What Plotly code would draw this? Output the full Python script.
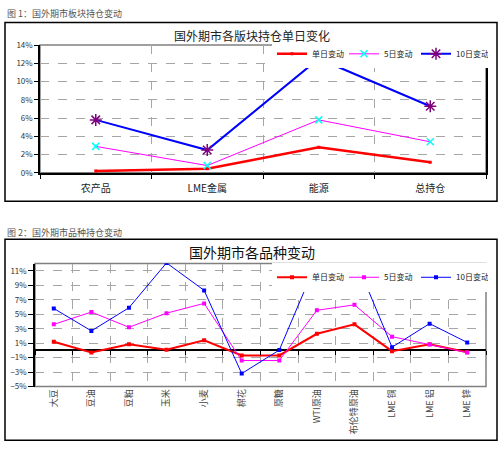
import plotly.graph_objects as go

W, H = 504, 455

# ---------------- data ----------------
sectors = ["农产品", "LME金属", "能源", "总持仓"]
sec_day1 = [0.2, 0.45, 2.8, 1.15]
sec_day5 = [2.9, 0.8, 5.8, 3.4]
sec_day10 = [5.8, 2.5, 12.5, 7.3]

varieties = ["大豆", "豆油", "豆粕", "玉米", "小麦", "棉花", "原糖",
             "WTI原油", "布伦特原油", "LME 铜", "LME 铝", "LME 锌"]
var_day1 = [1.2, -0.3, 0.85, 0.1, 1.4, -0.7, -0.7, 2.3, 3.6, -0.1, 0.85, -0.25]
var_day5 = [3.6, 5.3, 3.2, 5.15, 6.5, -1.4, -1.4, 5.55, 6.3, 1.9, 0.8, -0.3]
var_day10 = [5.8, 2.7, 5.9, 12.1, 8.3, -3.2, 0.05, 12.3, 12.9, 0.45, 3.7, 1.1]

series_names = ["单日变动", "5日变动", "10日变动"]
caption1 = "图 1：国外期市板块持仓变动"
caption2 = "图 2：国外期市品种持仓变动"
title1 = "国外期市各版块持仓单日变化"
title2 = "国外期市各品种变动"

y1_range = [0, 14]
y2_range = [-5, 12]

# ---------------- helpers ----------------
def fx(px):
    return px / W

def fy(py):
    return 1 - py / H

CJK = "Noto Sans CJK SC"
GRID = "#A6A6A6"

fig = go.Figure()

# chart 1 traces
fig.add_trace(go.Scatter(x=sectors, y=sec_day1, name=series_names[0], mode="lines+markers",
                         line=dict(color="#FF0000", width=2.5),
                         marker=dict(symbol="square", size=3, color="#FF0000"),
                         xaxis="x", yaxis="y", legend="legend"))
fig.add_trace(go.Scatter(x=sectors, y=sec_day5, name=series_names[1], mode="lines+markers",
                         line=dict(color="#FF00FF", width=1),
                         marker=dict(symbol="x-thin", size=7, color="#00FFFF",
                                     line=dict(color="#00FFFF", width=1.5)),
                         xaxis="x", yaxis="y", legend="legend"))
fig.add_trace(go.Scatter(x=sectors, y=sec_day10, name=series_names[2], mode="lines+markers",
                         line=dict(color="#0000FF", width=2),
                         marker=dict(symbol="asterisk", size=10, color="#800080",
                                     line=dict(color="#800080", width=1.5)),
                         xaxis="x", yaxis="y", legend="legend"))

# chart 2 traces
for vals, nm, col, w in [(var_day1, series_names[0], "#FF0000", 2),
                         (var_day5, series_names[1], "#FF00FF", 1),
                         (var_day10, series_names[2], "#0000FF", 1)]:
    fig.add_trace(go.Scatter(x=varieties, y=vals, name=nm, mode="lines+markers",
                             line=dict(color=col, width=w),
                             marker=dict(symbol="square", size=4, color=col),
                             xaxis="x2", yaxis="y2", legend="legend2"))

# invisible trace for the zero-level tick axis
fig.add_trace(go.Scatter(x=varieties, y=[0] * len(varieties), mode="none",
                         showlegend=False, hoverinfo="skip", xaxis="x3", yaxis="y2"))

d1x = [fx(40), fx(486)]
d1y = [fy(171), fy(40)]
d2x = [fx(35), fx(486)]
d2y = [fy(390), fy(264)]
zero_pos = d2y[0] + (d2y[1] - d2y[0]) * (0 - y2_range[0]) / (y2_range[1] - y2_range[0])

tickfont_small = dict(family=CJK, size=8, color="#333333")
legend_font = dict(family=CJK, size=8, color="#222222")

fig.update_layout(
    width=W, height=H,
    margin=dict(l=0, r=0, t=0, b=0),
    paper_bgcolor="white", plot_bgcolor="white",
    font=dict(family=CJK),
    xaxis=dict(domain=d1x, anchor="y", type="category", tickson="boundaries",
               showgrid=True, gridcolor=GRID, griddash="dash", gridwidth=1,
               showline=True, linecolor="black", linewidth=1.5,
               ticks="outside", ticklen=4, tickcolor="black",
               tickfont=dict(family=CJK, size=10, color="#222222"),
               ticklabelstandoff=5, range=[-0.5, len(sectors) - 0.5]),
    yaxis=dict(domain=d1y, anchor="x", range=y1_range, dtick=2, ticksuffix="%",
               showgrid=True, gridcolor=GRID, griddash="dash", gridwidth=1,
               showline=True, linecolor="black", linewidth=1.5, mirror=True,
               ticks="outside", ticklen=4, tickcolor="black", zeroline=False,
               tickfont=tickfont_small),
    xaxis2=dict(domain=d2x, anchor="y2", type="category", tickson="boundaries",
                showgrid=True, gridcolor=GRID, griddash="dash", gridwidth=1,
                showline=False, ticks="", tickangle=-90,
                tickfont=dict(family=CJK, size=9, color="#444444"),
                range=[-0.5, len(varieties) - 0.5]),
    xaxis3=dict(overlaying="x2", anchor="free", position=zero_pos, type="category",
                tickson="boundaries", showgrid=False, showline=False,
                ticks="outside", ticklen=4, tickcolor="black", showticklabels=False,
                range=[-0.5, len(varieties) - 0.5]),
    yaxis2=dict(domain=d2y, anchor="x2", range=y2_range, tick0=-5, dtick=2, ticksuffix="%",
                showgrid=True, gridcolor=GRID, griddash="dash", gridwidth=1,
                showline=True, linecolor="black", linewidth=1.5,
                ticks="outside", ticklen=5, tickcolor="black",
                zeroline=True, zerolinecolor="black", zerolinewidth=1.5,
                tickfont=tickfont_small),
    legend=dict(orientation="h", x=fx(488), xanchor="right", y=fy(49), yanchor="middle",
                bgcolor="white", font=legend_font, itemwidth=30, tracegroupgap=0,
                entrywidth=27, entrywidthmode="pixels"),
    legend2=dict(orientation="h", x=fx(488), xanchor="right", y=fy(278), yanchor="middle",
                 bgcolor="white", font=legend_font, itemwidth=30, tracegroupgap=0,
                 entrywidth=27, entrywidthmode="pixels"),
    showlegend=True,
)

shapes = [
    # outer chart boxes
    dict(type="rect", xref="paper", yref="paper", x0=fx(5), x1=fx(497), y0=fy(200), y1=fy(17),
         line=dict(color="black", width=1.5), layer="below"),
    dict(type="rect", xref="paper", yref="paper", x0=fx(5), x1=fx(497), y0=fy(445), y1=fy(239),
         line=dict(color="black", width=1.5), layer="below"),
    # plot area frames
    dict(type="rect", xref="x domain", yref="y domain", x0=0, x1=1, y0=0, y1=1,
         line=dict(color="#808080", width=1.5), layer="below"),
    dict(type="rect", xref="x2 domain", yref="y2 domain", x0=0, x1=1, y0=0, y1=1,
         line=dict(color="#808080", width=1.5), layer="below"),
]
fig.update_layout(shapes=shapes)

annotations = [
    dict(text=caption1, x=fx(5), y=fy(8), xref="paper", yref="paper", xanchor="left",
         yanchor="middle", showarrow=False, font=dict(family=CJK, size=9, color="#555555")),
    dict(text=caption2, x=fx(5), y=fy(232), xref="paper", yref="paper", xanchor="left",
         yanchor="middle", showarrow=False, font=dict(family=CJK, size=9, color="#555555")),
    dict(text=title1, x=fx(252), y=fy(30), xref="paper", yref="paper", xanchor="center",
         yanchor="middle", showarrow=False, font=dict(family=CJK, size=12, color="#222222")),
    dict(text=title2, x=fx(252), y=fy(252), xref="paper", yref="paper", xanchor="center",
         yanchor="middle", showarrow=False, font=dict(family=CJK, size=14, color="#111111")),
]
fig.update_layout(annotations=annotations)

fig.write_html("out.html")
